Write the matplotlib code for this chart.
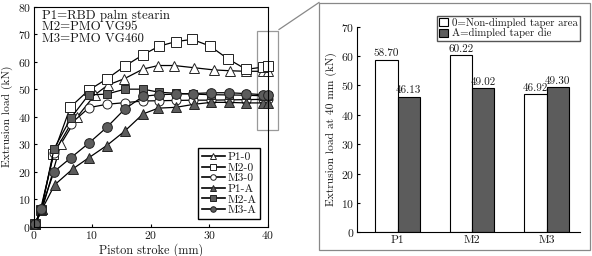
import matplotlib
matplotlib.use('Agg')
from matplotlib import pyplot as plt
from matplotlib.patches import Rectangle
from matplotlib.lines import Line2D
import numpy as np

plt.rcParams['font.family'] = 'cmr10'
plt.rcParams['axes.formatter.use_mathtext'] = True
plt.rcParams['mathtext.fontset'] = 'cm'

# curves: piston stroke (mm) vs extrusion load (kN)
p1_0_x = [0.3, 1.5, 4.7, 7.5, 10.5, 12.7, 15.5, 18.7, 21.3, 24.0, 27.4, 30.8, 33.5, 36.2, 39.1, 40]
p1_0_y = [1, 6.5, 30.2, 40, 48, 51.5, 53.8, 57.3, 58.6, 58.6, 57.8, 57.0, 56.7, 56.5, 56.5, 56.5]
m2_0_x = [0.2, 1.3, 3.4, 6.3, 9.4, 12.5, 15.6, 18.7, 21.4, 24.3, 27.1, 30.1, 33.2, 36.3, 39.1, 40]
m2_0_y = [1, 6, 26.5, 43.5, 49.6, 53.7, 58.4, 62.5, 65.6, 67.3, 68.1, 65.7, 61, 57.2, 58, 58.3]
m3_0_x = [0.3, 1.2, 3.5, 6.4, 9.5, 12.5, 15.6, 18.7, 21.4, 24.3, 27.3, 30.3, 33.3, 36.3, 39.1, 40]
m3_0_y = [1, 6.3, 26.8, 37.5, 43.3, 44.5, 45.1, 45.7, 45.8, 45.9, 46.0, 46.0, 46.1, 46.2, 46.3, 46.3]
p1_a_x = [0.3, 1.5, 3.6, 6.7, 9.4, 12.5, 15.6, 18.7, 21.3, 24.3, 27.4, 30.3, 33.3, 36.2, 39.1, 40]
p1_a_y = [1, 6.5, 15.2, 21, 25, 29.5, 34.8, 41, 43.1, 43.4, 44.5, 45.2, 45.2, 45.0, 45.0, 45.0]
m2_a_x = [0.3, 1.3, 3.5, 6.4, 9.4, 12.5, 15.6, 18.7, 21.4, 24.3, 27.3, 30.3, 33.3, 36.3, 39.1, 40]
m2_a_y = [1, 6, 28.3, 39.6, 47.9, 48.2, 50, 50, 48.9, 48.5, 48.2, 48.0, 47.9, 47.8, 47.6, 47.5]
m3_a_x = [0.3, 1.3, 3.5, 6.4, 9.4, 12.5, 15.6, 18.7, 21.4, 24.3, 27.3, 30.3, 33.3, 36.3, 39.1, 40]
m3_a_y = [1, 6.5, 20, 25.1, 30.3, 36.1, 42.8, 47.4, 48.0, 48.2, 48.4, 48.7, 48.7, 48.4, 48.0, 48.0]

# bars: load at 40 mm
groups = ['P1', 'M2', 'M3']
load_0 = [58.70, 60.22, 46.92]
load_a = [46.13, 49.02, 49.30]

dark = '#5c5c5c'
ink = '#1a1a1a'

fig = plt.figure(figsize=(5.92, 2.56), dpi=100)

ax = fig.add_axes([0.0566, 0.1145, 0.3958, 0.8595])
series = [
    (p1_0_x, p1_0_y, '^', 'white', 'P1-0', 6.5),
    (m2_0_x, m2_0_y, 's', 'white', 'M2-0', 7),
    (m3_0_x, m3_0_y, 'o', 'white', 'M3-0', 6.5),
    (p1_a_x, p1_a_y, '^', dark, 'P1-A', 6.5),
    (m2_a_x, m2_a_y, 's', dark, 'M2-A', 6),
    (m3_a_x, m3_a_y, 'o', dark, 'M3-A', 7),
]
for xs, ys, mk, fc, lab, ms in series:
    ax.plot(xs, ys, color='black', lw=0.9, marker=mk, ms=ms, mfc=fc,
            mec='#222222', mew=0.7, clip_on=False)

handles = [Line2D([], [], color='black', lw=1.2, marker=mk, ms=4, mfc=fc,
                  mec='#222222', mew=0.7) for _, _, mk, fc, _, _ in series]
ax.legend(handles, [s[4] for s in series], loc='lower right', fontsize=8.3,
          fancybox=False, edgecolor='black', framealpha=1, labelspacing=0.05,
          handlelength=2.0, handletextpad=0.2, borderpad=0.3, borderaxespad=0.7,
          labelcolor=ink)

ax.set_xlim(0, 40)
ax.set_ylim(0, 80)
ax.set_xticks([0, 10, 20, 30, 40])
ax.set_yticks(range(0, 81, 10))
ax.tick_params(direction='in', labelsize=8.4, length=2, pad=2, labelcolor=ink)
ax.set_xlabel('Piston stroke (mm)', fontsize=8.8, labelpad=1, color=ink)
ax.set_ylabel('Extrusion load (kN)', fontsize=8.3, labelpad=3, color=ink)
ax.text(0.035, 0.985, 'P1=RBD palm stearin\nM2=PMO VG95\nM3=PMO VG460',
        transform=ax.transAxes, va='top', ha='left', fontsize=9.3,
        linespacing=0.92, color=ink)

ax.add_patch(Rectangle((38.1, 35.2), 3.6, 36.0, fill=False, ec='#999999',
                       lw=0.9, clip_on=False))

# connector line and panel frame
fig.add_artist(Line2D([279 / 592, 319 / 592], [1 - 29.5 / 256, 1 - 2.5 / 256],
                      color='#888888', lw=0.9))
fig.add_artist(Rectangle((319 / 592, 1 - 250 / 256), 271 / 592, 247.5 / 256,
                         fill=False, ec='#888888', lw=0.9))

bx = fig.add_axes([0.6036, 0.0926, 0.3764, 0.8031])
pos = np.arange(len(groups))
w = 0.3
b0 = bx.bar(pos - w / 2, load_0, w, color='white', edgecolor='black', lw=0.8,
            label='0=Non-dimpled taper area')
b1 = bx.bar(pos + w / 2, load_a, w, color=dark, edgecolor='black', lw=0.8,
            label='A=dimpled taper die')
for bars, vals in ((b0, load_0), (b1, load_a)):
    for r, v in zip(bars, vals):
        bx.text(r.get_x() + r.get_width() / 2, v + 0.6, f'{v:.2f}',
                ha='center', va='bottom', fontsize=8, color=ink)
bx.set_xlim(-0.54, 2.45)
bx.set_ylim(0, 70)
bx.set_yticks(range(0, 71, 10))
bx.set_xticks(pos)
bx.set_xticklabels(groups)
bx.spines['top'].set_visible(False)
bx.spines['right'].set_visible(False)
bx.tick_params(direction='in', labelsize=8.4, length=2, pad=2, labelcolor=ink)
bx.set_ylabel('Extrusion load at 40 mm (kN)', fontsize=8.3, labelpad=3, color=ink)
bx.legend(loc='upper right', bbox_to_anchor=(1.025, 1.08), fontsize=7.8,
          fancybox=False, edgecolor='#555555', framealpha=1, labelspacing=0.05,
          handlelength=0.8, handleheight=0.8, handletextpad=0.4,
          borderpad=0.2, labelcolor=ink)

plt.savefig('out.png', dpi=100)
